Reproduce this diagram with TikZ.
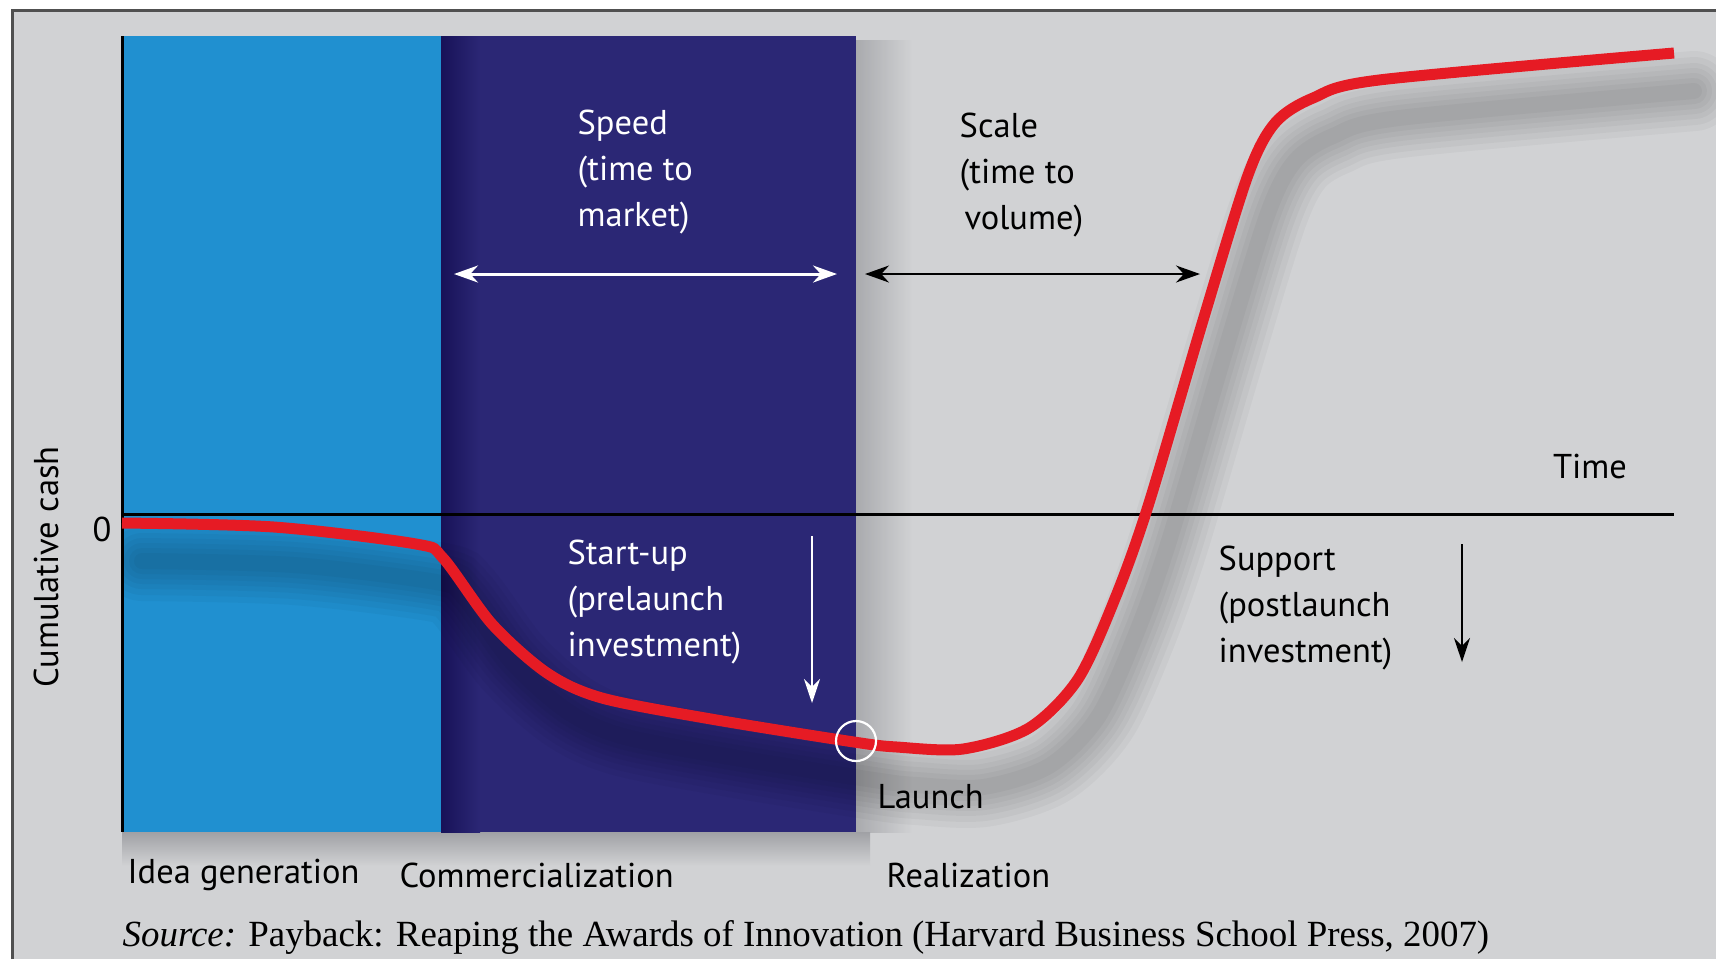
\documentclass[tikz,border=0pt]{standalone}
\usepackage{fontspec}
\setmainfont{Liberation Serif}
\newfontfamily\labelfont{PT Sans}
\usetikzlibrary{arrows.meta,positioning}

\definecolor{bggray}{RGB}{209,210,212}
\definecolor{framegray}{RGB}{80,80,80}
\definecolor{ideablue}{RGB}{32,144,208}
\definecolor{commnavy}{RGB}{43,39,117}
\definecolor{commdark}{RGB}{24,18,88}
\definecolor{shadegray}{RGB}{160,161,165}
\definecolor{cashred}{RGB}{230,27,36}

% the cumulative cash curve, used twice (shadow and line)
\newcommand{\cashline}{plot[smooth, tension=0.5] coordinates {(122,523) (274,527) (416,544) (443,558) (492,624) (547,673) (602,698) (711,719) (854,742) (897,747) (963,749) (1029,728) (1078,679) (1116,596) (1149,503) (1204,317) (1248,175) (1275,123) (1313,98) (1379,80) (1674,53)}}

\begin{document}
\begin{tikzpicture}[x=0.1mm, y=-0.1mm,
lbl/.style={font=\labelfont\fontsize{9.8}{13}\selectfont, align=left, inner sep=0pt, anchor=west},
whitelbl/.style={lbl, text=white},
phase/.style={font=\labelfont\fontsize{9.8}{13}\selectfont, inner sep=0pt, anchor=west},
span/.style={line width=0.3mm, {Stealth[length=2.4mm, width=1.7mm]}-{Stealth[length=2.4mm, width=1.7mm]}},
drop/.style={line width=0.25mm, -{Stealth[length=2.4mm, width=1.6mm]}}]

\useasboundingbox (0,0) rectangle (1716,959);

% background and frame
\fill[white] (0,0) rectangle (1716,959);
\fill[bggray] (12,10) rectangle (1716,959);
\draw[framegray, line width=0.3mm] (12,959) -- (12,10) -- (1716,10);

% panel shadows
\shade[left color=shadegray, right color=bggray, opacity=0.8] (856,40) rectangle (912,832);
\shade[top color=shadegray, bottom color=bggray] (122,832) rectangle (870,866);

% phase panels
\fill[ideablue] (122,36) rectangle (441,832);
\fill[commnavy] (441,36) rectangle (856,832);
\shade[left color=commdark, right color=commnavy] (441,36) rectangle (480,832);

% axes
\draw[line width=0.3mm] (122,36) -- (122,832);
\draw[line width=0.3mm] (122,514) -- (1674,514);
\node[phase, anchor=center] (zero) at (102,529) {0};
\node[phase, anchor=center, rotate=90] (ylabel) at (46,567) {Cumulative cash};
\node[phase, anchor=center] (time) at (1590,466) {Time};

% shadow of the curve
\begin{scope}
\clip (124,20) rectangle (1716,959);
\begin{scope}[shift={(20,38)}]
\foreach \w in {8.0,6.8,5.6,4.6,3.6,2.6,1.6}
  \draw[black, opacity=0.03, line width=\w mm, line cap=round] \cashline;
\end{scope}
\end{scope}

% the curve
\draw[cashred, line width=1.1mm] \cashline;
\node[circle, draw=white, line width=0.22mm, minimum size=4mm, inner sep=0pt] (launch) at (856,741) {};
\node[phase] (launchlbl) at (877,797) {Launch};

% speed
\node[whitelbl] (speed) at (577,172) {Speed\\(time to\\market)};
\coordinate (speedL) at (454,274);
\coordinate (speedR) at (837,274);
\draw[span, white] (speedL) -- (speedR);

% scale
\node[lbl] (scale) at (959,175) {Scale\\(time to\\\hspace{0.5mm}volume)};
\coordinate (scaleL) at (865,274);
\coordinate (scaleR) at (1200,274);
\draw[span, black, line width=0.2mm] (scaleL) -- (scaleR);

% start-up
\node[whitelbl] (startup) at (567,602) {Start-up\\(prelaunch\\investment)};
\coordinate (startupT) at (812,536);
\coordinate (startupB) at (812,703);
\draw[drop, white] (startupT) -- (startupB);

% support
\node[lbl] (support) at (1218,608) {Support\\(postlaunch\\investment)};
\coordinate (supportT) at (1462,544);
\coordinate (supportB) at (1462,662);
\draw[drop, black, line width=0.2mm] (supportT) -- (supportB);

% phases
\node[phase] (idea) at (127,875) {Idea generation};
\node[phase] (comm) at (399,875) {Commercialization};
\node[phase] (real) at (886,875) {Realization};

% source
\node[font=\fontsize{10.5}{12}\selectfont, inner sep=0pt, anchor=west] (source) at (122,937) {\textit{Source:} Payback: Reaping the Awards of Innovation (Harvard Business School Press, 2007)};

\end{tikzpicture}
\end{document}
